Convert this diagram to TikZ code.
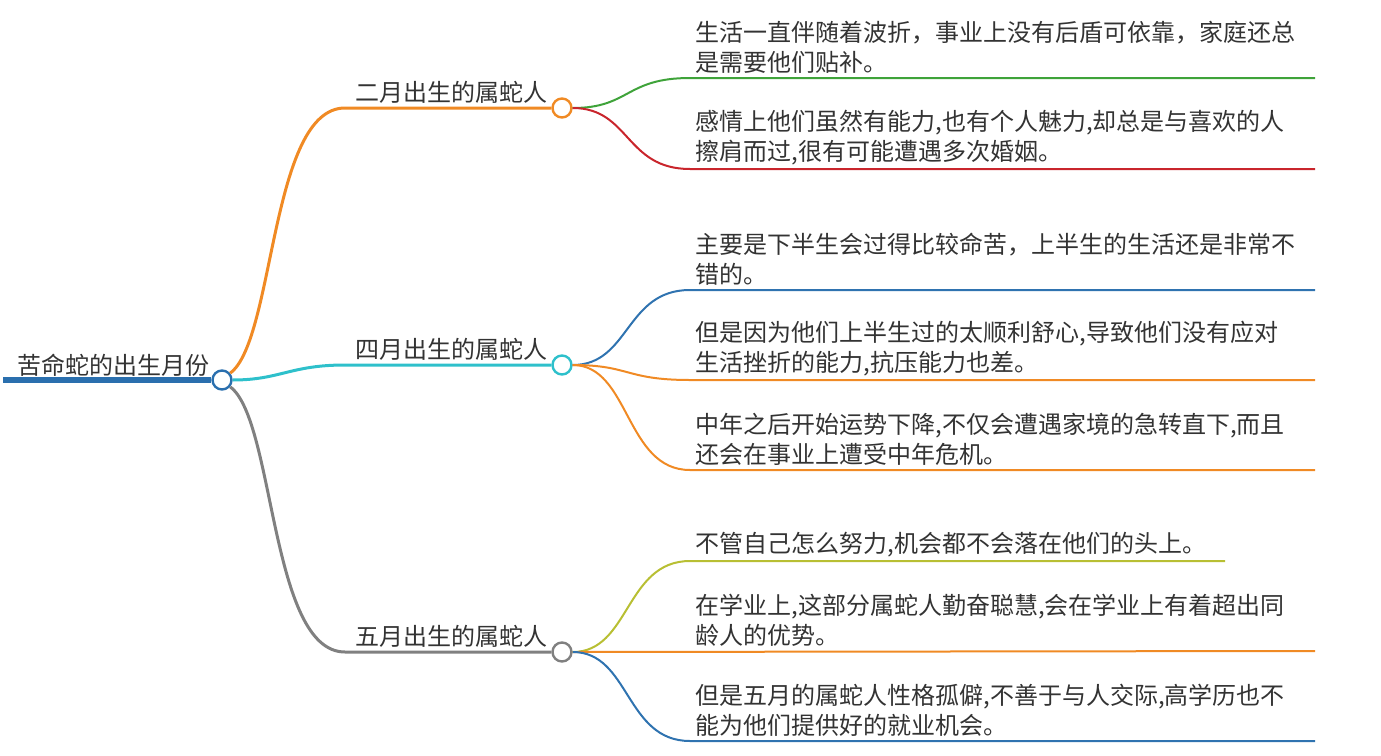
\documentclass[tikz,border=0pt]{standalone}
\usepackage{fontspec}
\setmainfont{Noto Sans CJK SC}
\usetikzlibrary{positioning}
\definecolor{croot}{HTML}{2A6FAE}
\definecolor{corange}{HTML}{F08A24}
\definecolor{ccyan}{HTML}{2EC0CB}
\definecolor{cgray}{HTML}{808080}
\definecolor{cgreen}{HTML}{3FA33A}
\definecolor{cred}{HTML}{C9252C}
\definecolor{cblue}{HTML}{2F73B0}
\definecolor{clime}{HTML}{B8BF33}
\definecolor{cink}{HTML}{333333}

\begin{document}
\begin{tikzpicture}[
    x=0.5pt, y=-0.5pt,
    rootlbl/.style={font=\fontsize{12pt}{14pt}\selectfont, text=cink, inner sep=0, anchor=south west},
    branchlbl/.style={font=\fontsize{12pt}{14pt}\selectfont, text=cink, inner sep=0, anchor=south west},
    leaflbl/.style={font=\fontsize{12pt}{15pt}\selectfont, text=cink, inner sep=0, anchor=south west, align=left},
    knot/.style={circle, draw=#1, fill=white, line width=1.2pt, minimum size=9.5pt, inner sep=0},
    branch/.style={draw=#1, line width=1.5pt},
    leaf/.style={draw=#1, line width=1pt},
  ]
  \useasboundingbox (0,0) rectangle (1381,755);
  % root
  \coordinate (rs) at (3,380);
  \node[knot=croot] (rc) at (222,380) {};
  \node[rootlbl] (root) at (17,377) {苦命蛇的出生月份};
  \draw[croot, line width=2.6pt] (rs) -- (rc.west);

  % months
  \node[knot=corange] (b1) at (562,108) {};
  \node[knot=ccyan] (b2) at (562,365) {};
  \node[knot=cgray] (b3) at (562,652) {};
  \node[branchlbl] (t1) at (355,104) {二月出生的属蛇人};
  \node[branchlbl] (t2) at (355,361) {四月出生的属蛇人};
  \node[branchlbl] (t3) at (355,648) {五月出生的属蛇人};
  \draw[branch=corange] (rc.40) .. controls (275,340) and (270,108) .. (345,108) -- (b1.west);
  \draw[branch=ccyan] (rc.east) .. controls (280,380) and (290,365) .. (345,365) -- (b2.west);
  \draw[branch=cgray] (rc.-40) .. controls (275,420) and (270,652) .. (345,652) -- (b3.west);

  % leaves of b1
  \node[leaflbl] (l1) at (695,74) {生活一直伴随着波折，事业上没有后盾可依靠，家庭还总\\是需要他们贴补。};
  \node[leaflbl] (l2) at (695,165) {感情上他们虽然有能力,也有个人魅力,却总是与喜欢的人\\擦肩而过,很有可能遭遇多次婚姻。};
  \coordinate (e1) at (1315,78);
  \coordinate (e2) at (1315,169);
  \draw[leaf=cgreen] (b1.east) .. controls (630,108) and (625,78) .. (690,78) -- (e1);
  \draw[leaf=cred] (b1.east) .. controls (630,108) and (625,169) .. (690,169) -- (e2);

  % leaves of b2
  \node[leaflbl] (l3) at (695,286) {主要是下半生会过得比较命苦，上半生的生活还是非常不\\错的。};
  \node[leaflbl] (l4) at (695,376) {但是因为他们上半生过的太顺利舒心,导致他们没有应对\\生活挫折的能力,抗压能力也差。};
  \node[leaflbl] (l5) at (695,466) {中年之后开始运势下降,不仅会遭遇家境的急转直下,而且\\还会在事业上遭受中年危机。};
  \coordinate (e3) at (1315,290);
  \coordinate (e4) at (1315,380);
  \coordinate (e5) at (1315,470);
  \draw[leaf=cblue] (b2.east) .. controls (630,365) and (625,290) .. (690,290) -- (e3);
  \draw[leaf=corange] (b2.east) .. controls (630,365) and (625,380) .. (690,380) -- (e4);
  \draw[leaf=corange] (b2.east) .. controls (630,365) and (625,470) .. (690,470) -- (e5);

  % leaves of b3
  \node[leaflbl] (l6) at (695,557) {不管自己怎么努力,机会都不会落在他们的头上。};
  \node[leaflbl] (l7) at (695,647) {在学业上,这部分属蛇人勤奋聪慧,会在学业上有着超出同\\龄人的优势。};
  \node[leaflbl] (l8) at (695,737) {但是五月的属蛇人性格孤僻,不善于与人交际,高学历也不\\能为他们提供好的就业机会。};
  \coordinate (e6) at (1225,561);
  \coordinate (e7) at (1315,651);
  \coordinate (e8) at (1315,741);
  \draw[leaf=clime] (b3.east) .. controls (630,652) and (625,561) .. (690,561) -- (e6);
  \draw[leaf=corange] (b3.east) -- (e7);
  \draw[leaf=cblue] (b3.east) .. controls (630,652) and (625,741) .. (690,741) -- (e8);
\end{tikzpicture}
\end{document}
